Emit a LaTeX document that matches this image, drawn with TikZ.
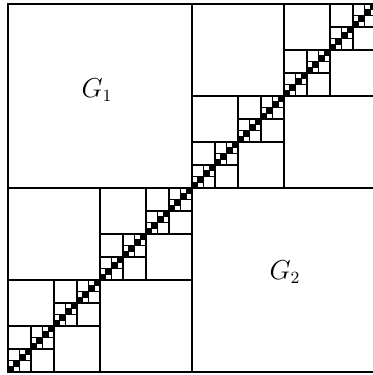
\documentclass[tikz,border=0pt]{standalone}
\usepackage{amsmath}
\usepackage{amssymb}
\usepackage{tikz}
\tikzset{gridline/.style = {draw, line width = 0.7pt}}
\tikzset{blocklabel/.style = {inner sep = 0pt, font = \fontsize{13.5}{16}\selectfont}}

\begin{document}
\begin{tikzpicture}[x = 0.0185cm, y = -0.0185cm]
			\useasboundingbox (0, 0) rectangle (373, 375);
			\clip (0, 0) rectangle (373, 375);

			\draw[gridline] (8, 4) rectangle (376, 372);

			% crosses in the diagonal blocks, level by level
			\foreach \k in {0,...,5} {
				\pgfmathsetmacro{\side}{368/2^\k}
				\pgfmathtruncatemacro{\last}{2^\k - 1}
				\foreach \i in {0,...,\last} {
					\pgfmathsetmacro{\xa}{8 + \i*\side}
					\pgfmathsetmacro{\yb}{372 - \i*\side}
					\draw[gridline] (\xa + \side/2, \yb) -- ++(0, -\side);
					\draw[gridline] (\xa, \yb - \side/2) -- ++(\side, 0);
				}
			}
			% smallest diagonal blocks are solid
			\foreach \i in {0,...,63} {
				\fill (8 + \i*5.75, 372 - \i*5.75) rectangle ++(5.75, -5.75);
			}

			\node[blocklabel] (g1) at (97, 90) {$G_1$};
			\node[blocklabel] (g2) at (285, 272) {$G_2$};
		\end{tikzpicture}
\end{document}
